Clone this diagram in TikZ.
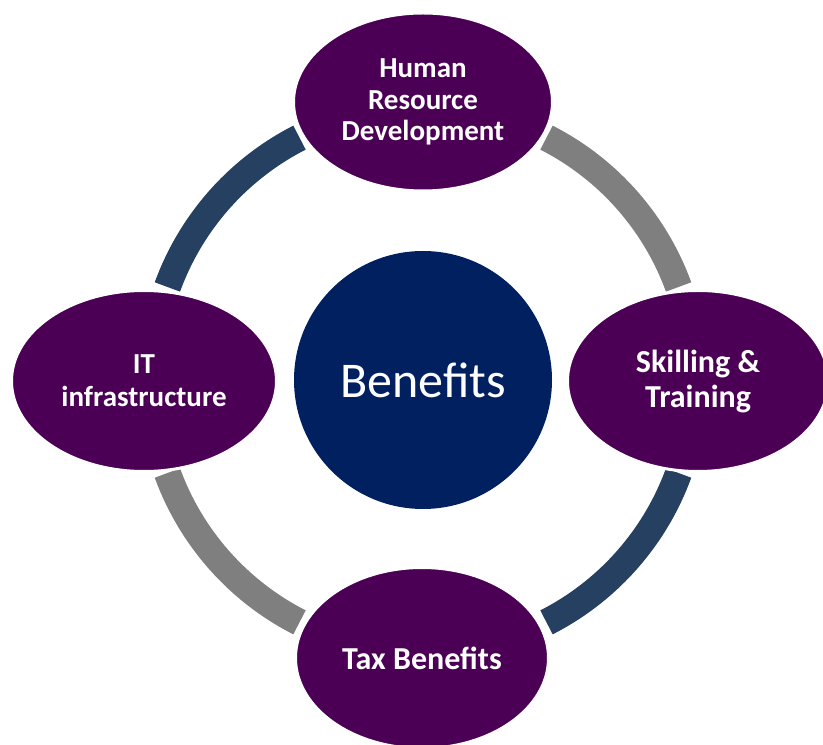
\documentclass[tikz,border=0pt]{standalone}
\usepackage{fontspec}
\setmainfont{Carlito}
\usetikzlibrary{shapes.geometric}
\definecolor{plum}{HTML}{4B0055}
\definecolor{navy}{HTML}{002060}
\definecolor{slate}{HTML}{264061}
\definecolor{ringgrey}{HTML}{7F7F7F}
\tikzset{
  x=1pt, y=1pt,
  pillar/.style={ellipse, fill=plum, draw=white, line width=3pt, inner sep=0pt,
    text=white, align=center},
  smalltext/.style={font=\fontsize{29}{31.5}\selectfont\bfseries},
  bigtext/.style={font=\fontsize{32}{35}\selectfont\bfseries},
  hub/.style={circle, fill=navy, inner sep=0pt, minimum size=258pt,
    text=white, font=\fontsize{50}{58}\selectfont},
  ringarc/.style={line width=27pt, line cap=butt},
}
\begin{document}
\begin{tikzpicture}
  \useasboundingbox (0,0) rectangle (823,745);
  \coordinate (c) at (423,365);

  % the four coloured quarter arcs of the cycle ring
  \draw[ringarc, ringgrey] ([shift={(20:272)}]c) arc[start angle=20, end angle=63, radius=272];
  \draw[ringarc, slate]    ([shift={(117:272)}]c) arc[start angle=117, end angle=160, radius=272];
  \draw[ringarc, ringgrey] ([shift={(200:272)}]c) arc[start angle=200, end angle=243, radius=272];
  \draw[ringarc, slate]    ([shift={(297:272)}]c) arc[start angle=297, end angle=340, radius=272];

  % central circle
  \node[hub] (hub) at (c) {Benefits};

  % the four topic ellipses on the ring
  \node[pillar, smalltext, minimum width=259pt, minimum height=178pt] (hrd) at (423,643)
    {Human\\Resource\\Development};
  \node[pillar, smalltext, font=\fontsize{29}{33}\selectfont\bfseries,
        minimum width=265pt, minimum height=181pt] (it) at (144,364)
    {IT\\infrastructure};
  \node[pillar, bigtext, minimum width=261pt, minimum height=181pt] (skill) at (698,364)
    {Skilling \&\\Training};
  \node[pillar, bigtext, minimum width=253pt, minimum height=181pt] (tax) at (422,87)
    {Tax Benefits};
\end{tikzpicture}
\end{document}
